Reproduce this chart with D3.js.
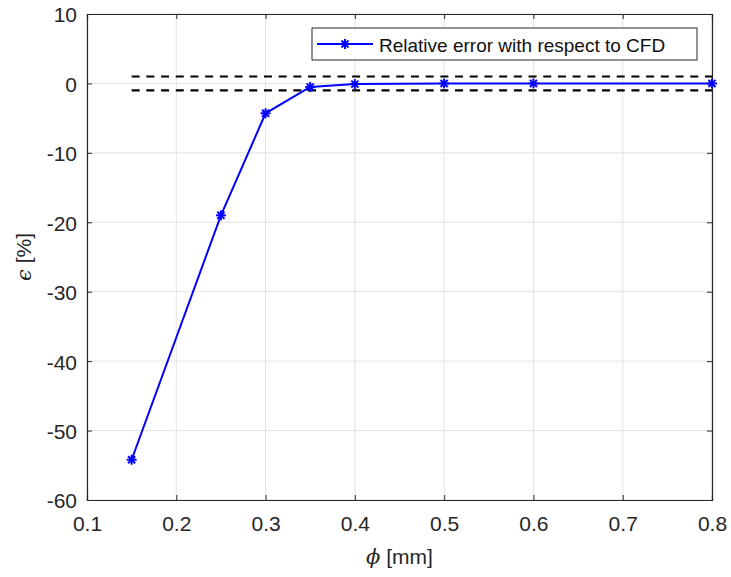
<!DOCTYPE html>
<html><head><meta charset="utf-8">
<script src="https://cdn.jsdelivr.net/npm/d3@7"></script>
<style>body{margin:0;background:#fff}svg{display:block}</style>
</head><body>
<svg id="c" width="731" height="577"></svg>
<script>
const phi = [0.15, 0.25, 0.3, 0.35, 0.4, 0.5, 0.6, 0.8];
const relErr = [-54.2, -19.0, -4.3, -0.5, -0.1, 0.0, 0.0, 0.0];
const xTicks = [0.1, 0.2, 0.3, 0.4, 0.5, 0.6, 0.7, 0.8];
const yTicks = [10, 0, -10, -20, -30, -40, -50, -60];
const tolBands = [1, -1];
const legendLabel = "Relative error with respect to CFD";

const svg = d3.select("#c");
const L = 87, R = 712, T = 14, B = 500;
const x = d3.scaleLinear().domain([0.1, 0.8]).range([L, R]);
const y = d3.scaleLinear().domain([-60, 10]).range([B, T]);
const axisCol = "#262626";
const font = "'Liberation Sans', Arial, Helvetica, sans-serif";

// grid
svg.append("g").selectAll("line").data(xTicks).join("line")
  .attr("x1", d => x(d)).attr("x2", d => x(d)).attr("y1", T).attr("y2", B)
  .attr("stroke", "#e3e3e3").attr("stroke-width", 1);
svg.append("g").selectAll("line").data(yTicks).join("line")
  .attr("x1", L).attr("x2", R).attr("y1", d => y(d)).attr("y2", d => y(d))
  .attr("stroke", "#e3e3e3").attr("stroke-width", 1);

// axes
const xa = svg.append("g").attr("transform", `translate(0,${B})`)
  .call(d3.axisBottom(x).tickValues(xTicks).tickSize(-5).tickPadding(16).tickFormat(d => String(d)));
const xt = svg.append("g").attr("transform", `translate(0,${T})`)
  .call(d3.axisTop(x).tickValues(xTicks).tickSize(-5).tickFormat(""));
const ya = svg.append("g").attr("transform", `translate(${L},0)`)
  .call(d3.axisLeft(y).tickValues(yTicks).tickSize(-5).tickPadding(10).tickFormat(d => String(d)));
const yr = svg.append("g").attr("transform", `translate(${R},0)`)
  .call(d3.axisRight(y).tickValues(yTicks).tickSize(-5).tickFormat(""));
[xa, xt, ya, yr].forEach(g => {
  g.selectAll("path").attr("stroke", axisCol).attr("stroke-width", 1.2);
  g.selectAll("line").attr("stroke", axisCol);
  g.selectAll("text").attr("fill", axisCol).style("font-family", font).style("font-size", "21px");
});
ya.selectAll("text").attr("dy", "0.38em");

// tolerance dashed lines
svg.append("g").selectAll("line").data(tolBands).join("line")
  .attr("x1", x(phi[0])).attr("x2", x(phi[phi.length - 1]))
  .attr("y1", d => y(d)).attr("y2", d => y(d))
  .attr("stroke", "#000").attr("stroke-width", 2.2).attr("stroke-dasharray", "8,6.7");

// data line
const line = d3.line().x((d, i) => x(phi[i])).y(d => y(d));
svg.append("path").datum(relErr).attr("d", line)
  .attr("fill", "none").attr("stroke", "#0000ff").attr("stroke-width", 2);

function star(g, cx, cy, r) {
  for (let k = 0; k < 4; k++) {
    const a = k * Math.PI / 4;
    g.append("line").attr("x1", cx - r * Math.cos(a)).attr("y1", cy - r * Math.sin(a))
      .attr("x2", cx + r * Math.cos(a)).attr("y2", cy + r * Math.sin(a))
      .attr("stroke", "#0000ff").attr("stroke-width", 2);
  }
}
const mk = svg.append("g");
relErr.forEach((v, i) => star(mk, x(phi[i]), y(v), 5));

// legend
const lg = svg.append("g");
lg.append("rect").attr("x", 312).attr("y", 28).attr("width", 385).attr("height", 32)
  .attr("fill", "#fff").attr("stroke", axisCol).attr("stroke-width", 1);
lg.append("line").attr("x1", 317).attr("x2", 373).attr("y1", 44).attr("y2", 44)
  .attr("stroke", "#0000ff").attr("stroke-width", 2);
star(lg, 345, 44, 5);
lg.append("text").attr("x", 379).attr("y", 51.5).text(legendLabel)
  .attr("fill", "#111").style("font-family", font).style("font-size", "19px");

// axis labels
const xl = svg.append("text").attr("x", (L + R) / 2).attr("y", 564).attr("text-anchor", "middle")
  .attr("fill", axisCol).style("font-family", font).style("font-size", "21px");
xl.append("tspan").style("font-style", "italic").style("font-family", "'DejaVu Serif', serif").text("ϕ");
xl.append("tspan").text(" [mm]");
const yl = svg.append("text").attr("transform", `translate(31,${(T + B) / 2}) rotate(-90)`)
  .attr("text-anchor", "middle").attr("fill", axisCol).style("font-family", font).style("font-size", "21px");
yl.append("tspan").style("font-style", "italic").style("font-family", "'DejaVu Serif', serif").text("ϵ");
yl.append("tspan").text(" [%]");
</script>
</body></html>
